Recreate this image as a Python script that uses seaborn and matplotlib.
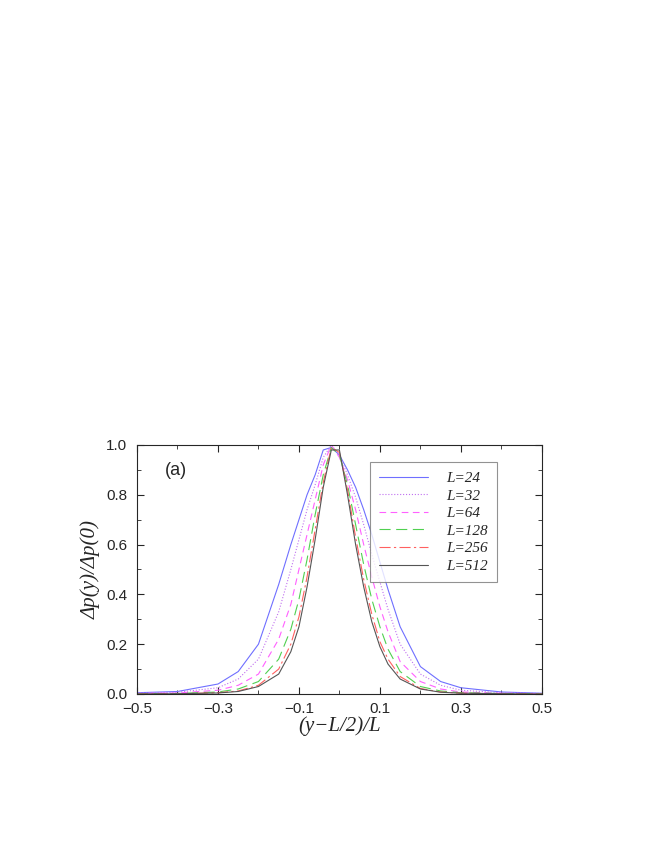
import matplotlib
matplotlib.use("Agg")
import matplotlib.pyplot as plt
import seaborn as sns
import numpy as np
import pandas as pd

grid = [-0.5,-0.4,-0.3,-0.25,-0.2,-0.15,-0.12,-0.1,-0.08,-0.06,-0.04,-0.02,0,0.02,0.04,0.06,0.08,0.1,0.12,0.15,0.2,0.25,0.3,0.4,0.5]
y24 = [0.005,0.01,0.04,0.09,0.2,0.44,0.6,0.7,0.8,0.88,0.98,0.99,0.96,0.9,0.83,0.74,0.64,0.53,0.42,0.27,0.11,0.05,0.025,0.008,0.003]
y32 = [0.003,0.007,0.025,0.06,0.14,0.33,0.5,0.62,0.74,0.84,0.95,1.0,0.96,0.88,0.79,0.68,0.56,0.45,0.34,0.2,0.08,0.035,0.015,0.005,0.002]
y64 = [0.002,0.004,0.015,0.035,0.08,0.22,0.36,0.5,0.64,0.78,0.92,1.0,0.95,0.86,0.74,0.6,0.47,0.35,0.25,0.13,0.05,0.02,0.008,0.003,0.001]
y128 = [0.001,0.002,0.008,0.02,0.05,0.14,0.26,0.38,0.54,0.72,0.88,0.99,0.96,0.84,0.68,0.52,0.38,0.27,0.18,0.09,0.03,0.012,0.005,0.002,0.001]
y256 = [0.0,0.001,0.005,0.012,0.035,0.1,0.2,0.31,0.47,0.66,0.85,0.99,0.97,0.82,0.63,0.46,0.32,0.21,0.14,0.07,0.022,0.008,0.003,0.001,0.0]
y512 = [0.0,0.001,0.004,0.01,0.03,0.08,0.17,0.27,0.43,0.62,0.83,0.98,0.98,0.8,0.6,0.43,0.29,0.19,0.12,0.06,0.02,0.007,0.003,0.001,0.0]
labels = ["L=24","L=32","L=64","L=128","L=256","L=512"]
series = [y24,y32,y64,y128,y256,y512]
colors = ["#6f6fff","#c070f0","#ff60ff","#50d050","#ff6060","#555555"]
styles = ["-", ":", (0,(6,4)), (0,(10,5)), (0,(10,3,2,3)), "-"]

sns.set_style("ticks")
fig = plt.figure(figsize=(6.54,8.46), dpi=100)
ax = fig.add_axes([0.2095,0.1797,0.619,0.2943])
for lab, ys, c, ls in zip(labels, series, colors, styles):
    df = pd.DataFrame({"x": grid, "y": ys})
    sns.lineplot(data=df, x="x", y="y", ax=ax, color=c, linestyle=ls, linewidth=0.8, label=lab)
ax.set_xlim(-0.5,0.5); ax.set_ylim(0,1)
ax.set_xticks([-0.5,-0.3,-0.1,0.1,0.3,0.5])
ax.set_xticks(np.arange(-0.4,0.5,0.2), minor=True)
ax.set_yticks(np.arange(0,1.01,0.2))
ax.set_yticks(np.arange(0.1,1,0.2), minor=True)
ax.tick_params(direction="in", top=True, right=True, which="both", labelsize=11)
ax.tick_params(which="major", length=5); ax.tick_params(which="minor", length=3)
ax.tick_params(axis="y", pad=7); ax.tick_params(axis="x", pad=6)
for t in ax.get_xticklabels()+ax.get_yticklabels():
    t.set_family("Liberation Sans")
ax.set_xlabel("(y−L/2)/L", family="Liberation Serif", style="italic", fontsize=15, labelpad=0)
ax.set_ylabel("Δp(y)/Δp(0)", family="Liberation Serif", style="italic", fontsize=15)
ax.text(0.07,0.93,"(a)", transform=ax.transAxes, fontsize=13, family="Liberation Sans", va="top")
leg = ax.legend(loc="upper right", bbox_to_anchor=(0.89,0.93), borderaxespad=0,
                prop={"family":"Liberation Serif","style":"italic","size":11},
                fancybox=False, edgecolor="#777", handlelength=3.2, handletextpad=1.2,
                labelspacing=0.25, borderpad=0.6, frameon=True)
leg.get_frame().set_linewidth(0.8)
fig.savefig("out.png", dpi=100)
